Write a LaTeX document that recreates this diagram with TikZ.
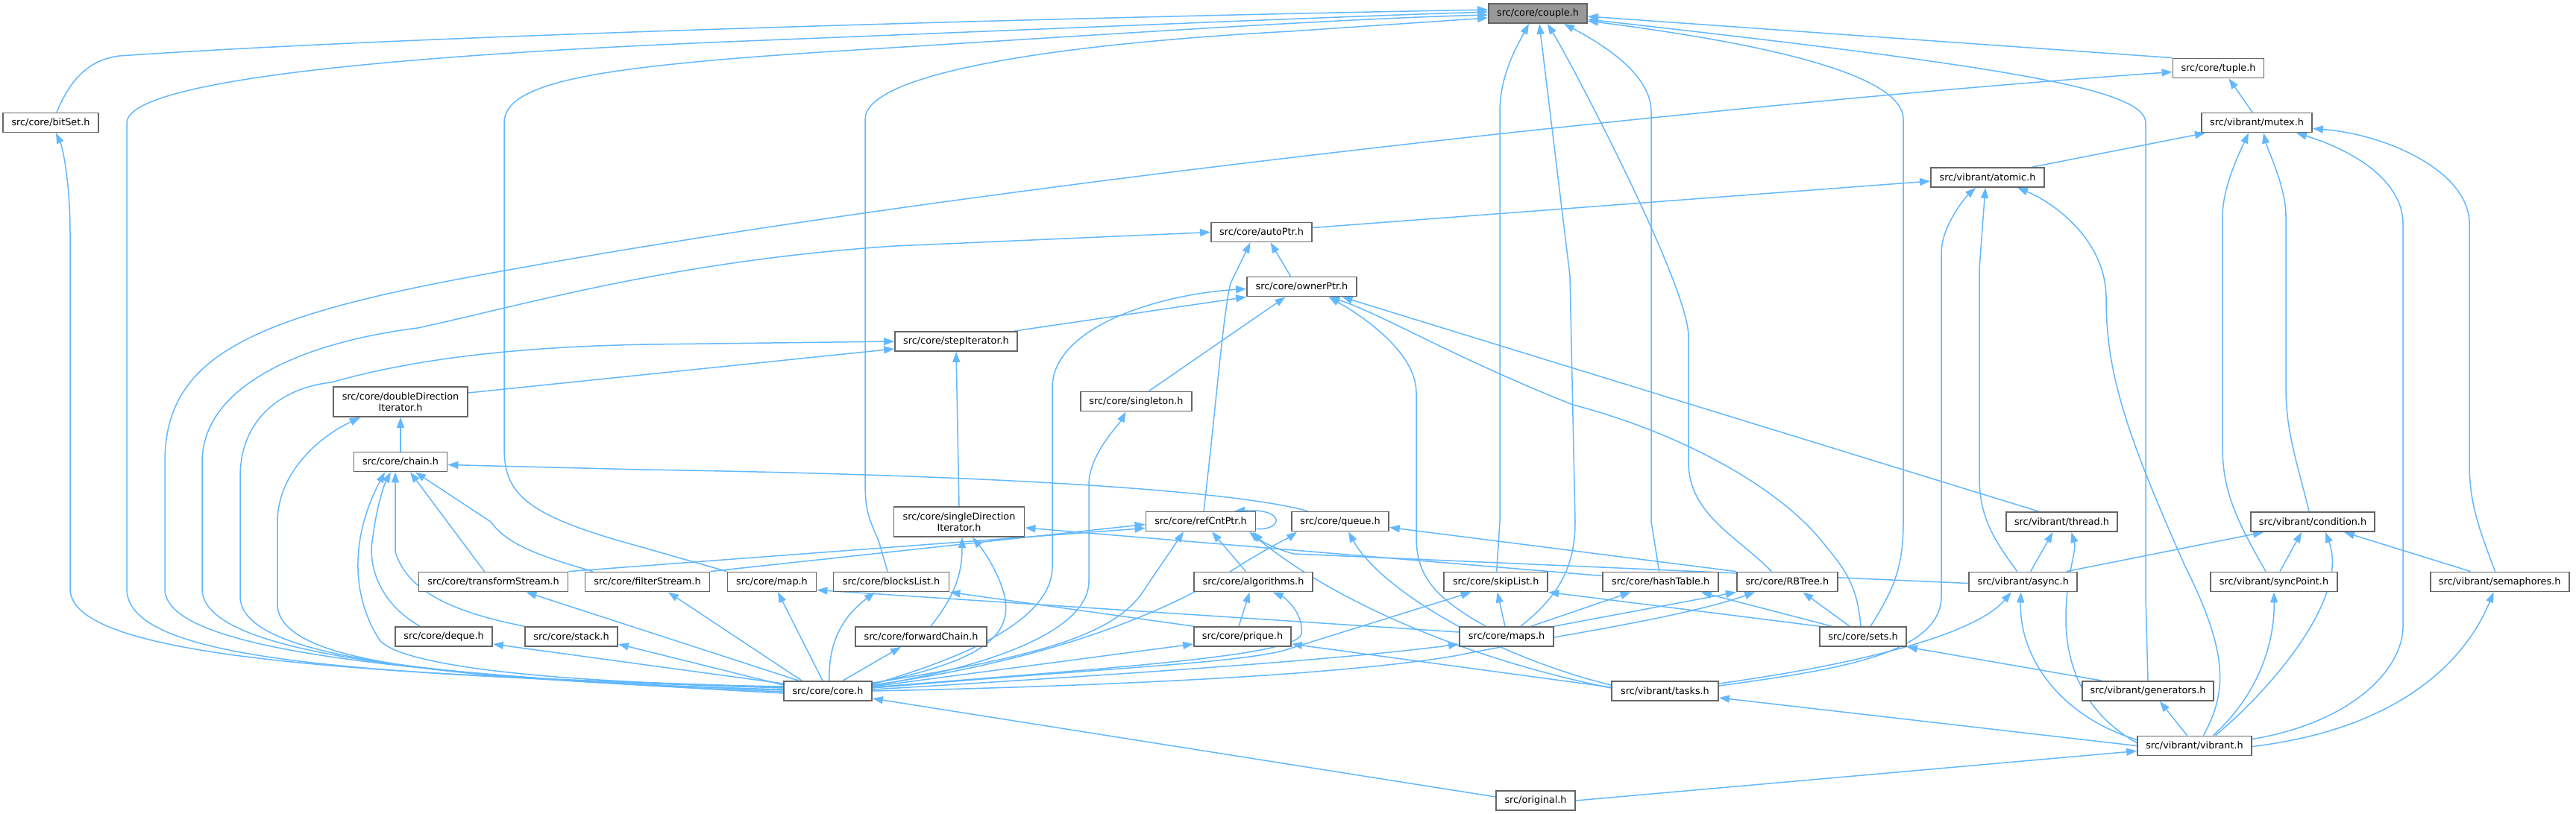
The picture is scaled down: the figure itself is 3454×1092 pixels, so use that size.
\documentclass[tikz,border=0pt]{standalone}
\usepackage{fontspec}
\setmainfont{DejaVu Sans}
\usetikzlibrary{arrows.meta}
\definecolor{eb}{HTML}{63B8FF}
\definecolor{bd}{HTML}{666666}
\definecolor{cf}{HTML}{999999}
\pgfdeclarelayer{bg}
\pgfdeclarelayer{bgw}
\pgfsetlayers{bgw,bg,main}
\begin{document}
\begin{tikzpicture}[x=1pt,y=-1pt,
 nd/.style={draw=bd,line width=1.8pt,fill=white,minimum height=26pt,inner sep=0pt,align=center,font=\fontsize{12.8}{15}\selectfont},
 e/.style={draw=eb,line width=1.5pt,-{Triangle[length=14pt,width=10pt]}}]
\begin{pgfonlayer}{bgw}
\fill[white] (0,0) rectangle (3454,1092);
\end{pgfonlayer}
\useasboundingbox (0,0) rectangle (3454,1092);
\node[nd,fill=cf,minimum width=132pt] (couple) at (2062,18) {src/core/couple.h};
\node[nd,minimum width=128pt] (bitSet) at (68,164.5) {src/core/bitSet.h};
\node[nd,minimum width=122pt] (tuple) at (2974.5,91.5) {src/core/tuple.h};
\node[nd,minimum width=148pt] (mutex) at (3026,164.5) {src/vibrant/mutex.h};
\node[nd,minimum width=152pt] (atomic) at (2665,238) {src/vibrant/atomic.h};
\node[nd,minimum width=135pt] (autoPtr) at (1691.5,311.5) {src/core/autoPtr.h};
\node[nd,minimum width=147pt] (ownerPtr) at (1745.5,384.5) {src/core/ownerPtr.h};
\node[nd,minimum width=164pt] (stepIt) at (1282,458) {src/core/stepIterator.h};
\node[nd,minimum width=180pt,minimum height=40pt] (dd) at (537,539) {src/core/doubleDirection\\Iterator.h};
\node[nd,minimum width=149pt] (singleton) at (1523.5,538.5) {src/core/singleton.h};
\node[nd,minimum width=125pt] (chain) at (537,619.5) {src/core/chain.h};
\node[nd,minimum width=175pt,minimum height=40pt] (sd) at (1286,700) {src/core/singleDirection\\Iterator.h};
\node[nd,minimum width=147pt] (ref) at (1610,699.5) {src/core/refCntPtr.h};
\node[nd,minimum width=130pt] (queue) at (1797,699.5) {src/core/queue.h};
\node[nd,minimum width=149pt] (thread) at (2764.5,700) {src/vibrant/thread.h};
\node[nd,minimum width=166pt] (cond) at (3101,700) {src/vibrant/condition.h};
\node[nd,minimum width=200pt] (tstream) at (661.5,780.5) {src/core/transformStream.h};
\node[nd,minimum width=167pt] (fstream) at (868,780.5) {src/core/filterStream.h};
\node[nd,minimum width=119pt] (map) at (1035,780.5) {src/core/map.h};
\node[nd,minimum width=155pt] (blocks) at (1195,780.5) {src/core/blocksList.h};
\node[nd,minimum width=159pt] (algo) at (1680.5,780.5) {src/core/algorithms.h};
\node[nd,minimum width=139pt] (skip) at (2005.7,780.5) {src/core/skipList.h};
\node[nd,minimum width=155pt] (hash) at (2226.7,780.5) {src/core/hashTable.h};
\node[nd,minimum width=135pt] (rbt) at (2396.3,780.5) {src/core/RBTree.h};
\node[nd,minimum width=145pt] (async) at (2712.7,780.5) {src/vibrant/async.h};
\node[nd,minimum width=170pt] (sync) at (3049,780.5) {src/vibrant/syncPoint.h};
\node[nd,minimum width=186pt] (sem) at (3351.6,780.5) {src/vibrant/semaphores.h};
\node[nd,minimum width=130pt] (deque) at (595,854) {src/core/deque.h};
\node[nd,minimum width=124pt] (stack) at (766,854) {src/core/stack.h};
\node[nd,minimum width=176pt] (fchain) at (1235,854) {src/core/forwardChain.h};
\node[nd,minimum width=130pt] (prique) at (1666,854) {src/core/prique.h};
\node[nd,minimum width=126pt] (maps) at (2020,854) {src/core/maps.h};
\node[nd,minimum width=116pt] (sets) at (2498,854) {src/core/sets.h};
\node[nd,minimum width=118pt] (core) at (1110,927) {src/core/core.h};
\node[nd,minimum width=143pt] (tasks) at (2232.5,927) {src/vibrant/tasks.h};
\node[nd,minimum width=176pt] (gen) at (2880,927) {src/vibrant/generators.h};
\node[nd,minimum width=153pt] (vib) at (2942.5,1000.5) {src/vibrant/vibrant.h};
\node[nd,minimum width=106pt] (orig) at (2059,1074) {src/original.h};
\begin{pgfonlayer}{bg}
% couple
\draw[e] ([xshift=8pt]bitSet.north) .. controls (95,105) and (120,80) .. (160,75) .. controls (600,45) and (1500,22) .. ([yshift=5pt]couple.west);
\draw[e] ([yshift=4pt]core.west) .. controls (500,905) and (170,890) .. (170,790) -- (170,165) .. controls (170,110) and (500,75) .. (1000,55) .. controls (1500,35) and (1800,22) .. ([yshift=2pt]couple.west);
\draw[e] (map.north west) -- (850,731) .. controls (700,690) and (676,660) .. (676,600) -- (676,165) .. controls (676,110) and (800,90) .. (1100,70) .. controls (1500,45) and (1800,25) .. ([yshift=-2pt]couple.west);
\draw[e] ([xshift=-5pt]blocks.north) -- (1178,725) .. controls (1162,690) and (1160,680) .. (1160,640) -- (1160,160) .. controls (1160,100) and (1400,60) .. (1730,42) -- ([yshift=-6pt]couple.west);
\draw[e] ([xshift=1pt]skip.north) -- (2011,700) -- (2011,150) .. controls (2011,100) and (2035,60) .. ([xshift=-12pt]couple.south);
\draw[e] ([xshift=19pt]maps.north) .. controls (2090,800) and (2112,760) .. (2112,700) -- (2105,370) -- ([xshift=2pt]couple.south);
\draw[e] ([xshift=-21pt]rbt.north) .. controls (2330,720) and (2264,690) .. (2264,620) -- (2264,450) .. controls (2262,380) and (2110,90) .. ([xshift=13pt]couple.south);
\draw[e] ([xshift=-2pt]hash.north) -- (2214,700) -- (2214,150) .. controls (2214,100) and (2150,60) .. ([xshift=35pt]couple.south);
\draw[e] ([xshift=10pt]sets.north) .. controls (2540,790) and (2552,760) .. (2552,700) -- (2552,160) .. controls (2552,90) and (2300,50) .. ([yshift=-10pt]couple.east);
\draw[e] (tuple.north west) -- ([yshift=-4pt]couple.east);
\draw[e] (gen.north) -- (2877,800) -- (2877,165) .. controls (2877,120) and (2700,90) .. ([yshift=-8pt]couple.east);
% tuple, mutex
\draw[e] ([yshift=-3pt]core.west) .. controls (600,905) and (221,880) .. (221,790) -- (221,620) .. controls (221,470) and (350,420) .. (694,360) .. controls (1300,250) and (2300,140) .. ([yshift=-5pt]tuple.west);
\draw[e] ([xshift=-6pt]mutex.north) -- ([xshift=14pt]tuple.south);
\draw[e] ([xshift=60pt]atomic.north) -- ([xshift=-69pt]mutex.south);
\draw[e] ([xshift=-11pt]sync.north) .. controls (3000,700) and (2980,660) .. (2980,600) -- (2980,290) .. controls (2980,250) and (3005,200) .. ([xshift=-11pt]mutex.south);
\draw[e] ([xshift=-5pt]cond.north) .. controls (3080,620) and (3065,580) .. (3065,520) -- (3065,290) .. controls (3065,250) and (3040,200) .. ([xshift=9pt]mutex.south);
\draw[e] ([yshift=9pt]vib.east) .. controls (3150,970) and (3222,900) .. (3222,840) -- (3222,300) .. controls (3222,240) and (3150,200) .. ([xshift=53pt]mutex.south);
\draw[e] ([xshift=-6pt]sem.north) .. controls (3320,700) and (3311,670) .. (3311,620) -- (3311,300) .. controls (3311,230) and (3200,180) .. ([yshift=-8pt]mutex.east);
% atomic
\draw[e] ([xshift=-8pt]async.north) .. controls (2670,720) and (2654,690) .. (2654,640) -- (2654,360) -- ([xshift=-3pt]atomic.south);
\draw[e] ([yshift=7pt]tasks.east) .. controls (2450,900) and (2603,880) .. (2603,800) -- (2603,340) .. controls (2603,300) and (2640,260) .. ([xshift=-16pt]atomic.south);
\draw[e] ([xshift=12pt]vib.north) .. controls (2985,930) and (2990,880) .. (2930,760) .. controls (2850,580) and (2824,500) .. (2824,400) .. controls (2824,320) and (2750,270) .. ([xshift=40pt]atomic.south);
\draw[e] ([yshift=6pt]autoPtr.east) -- ([yshift=-5pt]atomic.west);
% autoPtr
\draw[e] ([yshift=-1pt]core.west) .. controls (600,910) and (271,880) .. (271,790) -- (271,620) .. controls (271,520) and (400,460) .. (560,440) .. controls (700,410) and (900,350) .. (1200,330) -- (autoPtr.west);
\draw[e] ([xshift=4pt]ref.north) .. controls (1630,550) and (1640,420) .. (1650,380) -- ([xshift=-15pt]autoPtr.south);
\draw[e] ([xshift=-15pt]ownerPtr.north) -- ([xshift=12pt]autoPtr.south);
% ownerPtr
\draw[e] ([yshift=9pt]core.east) .. controls (1300,880) and (1411,830) .. (1411,760) -- (1411,520) .. controls (1411,440) and (1550,395) .. ([yshift=-3pt]ownerPtr.west);
\draw[e] ([xshift=78pt]stepIt.north) -- (ownerPtr.south west);
\draw[e] ([xshift=17pt]singleton.north) -- ([xshift=-22pt]ownerPtr.south);
\draw[e] ([xshift=-28pt]maps.north) .. controls (1920,800) and (1899,770) .. (1899,720) -- (1899,527) .. controls (1899,470) and (1820,420) .. ([xshift=36pt]ownerPtr.south);
\draw[e] ([xshift=-3pt]sets.north) .. controls (2490,780) and (2470,760) .. (2442,725) .. controls (2380,650) and (2250,580) .. (2109,543) .. controls (1950,480) and (1850,420) .. ([xshift=37pt]ownerPtr.south);
\draw[e] ([xshift=-31pt]thread.north) -- ([xshift=54pt]ownerPtr.south);
% stepIterator
\draw[e] ([yshift=1pt]core.west) .. controls (600,910) and (322,885) .. (322,800) -- (322,640) .. controls (322,560) and (380,520) .. (444,513) .. controls (560,480) and (700,465) .. (870,462) -- (stepIt.west);
\draw[e] ([yshift=12pt]dd.east) -- ([yshift=-10pt]stepIt.west);
\draw[e] (sd.north) -- (stepIt.south);
% doubleDirection
\draw[e] ([yshift=2pt]core.west) .. controls (600,912) and (372,890) .. (372,810) -- (372,700) .. controls (372,640) and (420,590) .. ([xshift=-54pt]dd.south);
\draw[e] (chain.north) -- (dd.south);
% chain
\draw[e] ([yshift=6pt]core.west) .. controls (700,915) and (540,890) .. (510,860) .. controls (470,800) and (470,720) .. ([xshift=-21pt]chain.south);
\draw[e] ([xshift=-32pt]deque.north) .. controls (510,810) and (492,760) .. (500,720) .. controls (505,680) and (515,650) .. ([xshift=-13pt]chain.south);
\draw[e] ([xshift=-63pt]stack.north) .. controls (600,820) and (545,790) .. (530,740) -- ([xshift=-7pt]chain.south);
\draw[e] ([xshift=-12pt]tstream.north) -- ([xshift=13pt]chain.south);
\draw[e] ([xshift=-73pt]fstream.north) .. controls (720,745) and (680,730) .. (658,700) -- ([xshift=20pt]chain.south);
\draw[e] ([xshift=-44pt]queue.north) .. controls (1700,670) and (1500,640) .. (860,630) -- ([yshift=-4pt]chain.east);
% singleDirection
\draw[e] ([xshift=13pt]fchain.north) .. controls (1280,800) and (1290,770) .. ([xshift=4pt]sd.south);
\draw[e] ([yshift=10pt]core.east) .. controls (1300,890) and (1360,860) .. (1347,800) .. controls (1340,770) and (1320,740) .. ([xshift=18pt]sd.south);
\draw[e] ([yshift=8pt]hash.west) -- ([yshift=-8pt]sd.east);
% singleton
\draw[e] ([yshift=7pt]core.east) .. controls (1350,890) and (1460,840) .. (1460,780) -- (1460,650) .. controls (1460,610) and (1500,570) .. ([xshift=-14pt]singleton.south);
% refCntPtr
\draw[e] (tstream.north east) -- ([yshift=-9pt]ref.west);
\draw[e] (fstream.north east) -- ([yshift=-4pt]ref.west);
\draw[e] ([yshift=11pt]core.east) .. controls (1400,880) and (1500,850) .. (1537,787) -- ([xshift=-23pt]ref.south);
\draw[e] ([xshift=-10pt]algo.north) -- ([xshift=15pt]ref.south);
\draw[e] ([yshift=-10pt]ref.east) .. controls (1720,712) and (1725,682) .. ([xshift=45pt]ref.north);
\draw[e] ([yshift=4pt]tasks.west) .. controls (1950,880) and (1780,800) .. ([xshift=65pt]ref.south);
\draw[e] ([yshift=-2pt]async.west) -- (1735,743) .. controls (1712,737) and (1692,727) .. ([xshift=70pt]ref.south);
% core to lower nodes
\draw[e] ([xshift=-39pt]core.north) -- ([xshift=44pt]tstream.south);
\draw[e] ([xshift=-35pt]core.north) -- ([xshift=28pt]fstream.south);
\draw[e] ([xshift=-7pt]core.north) -- ([xshift=8pt]map.south);
\draw[e] ([xshift=2pt]core.north) .. controls (1110,850) and (1140,820) .. ([xshift=-22pt]blocks.south);
\draw[e] ([xshift=20pt]core.north) -- ([xshift=-27pt]fchain.south);
\draw[e] ([yshift=10pt]core.west) -- ([yshift=-10pt]deque.east);
\draw[e] ([yshift=8pt]core.west) -- ([yshift=-10pt]stack.east);
\draw[e] ([yshift=5pt]core.west) .. controls (500,905) and (94,885) .. (94,790) -- (94,310) .. controls (94,250) and (85,200) .. ([xshift=7pt]bitSet.south);
\draw[e] ([yshift=6pt]core.east) -- ([yshift=-10pt]prique.west);
\draw[e] ([yshift=2pt]core.east) .. controls (1500,905) and (1800,885) .. ([yshift=-10pt]maps.west);
\draw[e] ([yshift=4pt]core.east) .. controls (1500,895) and (1650,890) .. (1720,873) -- ([xshift=-33pt]skip.south);
\draw[e] (core.east) .. controls (1500,920) and (1800,905) .. (1950,880) .. controls (2100,850) and (2250,830) .. ([xshift=-43pt]rbt.south);
\draw[e] ([yshift=5pt]core.east) .. controls (1500,895) and (1740,880) .. (1745,850) .. controls (1748,820) and (1720,800) .. ([xshift=26pt]algo.south);
\draw[e] ([yshift=8pt]core.east) .. controls (1450,880) and (1600,800) .. (1660,760) .. controls (1700,735) and (1730,720) .. ([xshift=-58pt]queue.south);
% misc
\draw[e] ([xshift=-5pt]prique.north) -- ([xshift=-5pt]algo.south);
\draw[e] (prique.north west) -- (blocks.south east);
\draw[e] ([yshift=6pt]maps.west) -- ([yshift=-11pt]map.east);
\draw[e] ([yshift=8pt]tasks.west) .. controls (2000,880) and (1850,790) .. ([xshift=11pt]queue.south);
\draw[e] ([yshift=5pt]tasks.west) -- ([yshift=-10pt]prique.east);
\draw[e] (rbt.north west) -- ([yshift=-8pt]queue.east);
\draw[e] ([xshift=-2pt]maps.north) -- ([xshift=2pt]skip.south);
\draw[e] ([xshift=33pt]maps.north) -- ([xshift=-40pt]hash.south);
\draw[e] (maps.north east) -- (rbt.south west);
\draw[e] (sets.north west) -- (skip.south east);
\draw[e] ([xshift=-42pt]sets.north) -- ([xshift=54pt]hash.south);
\draw[e] ([xshift=-18pt]sets.north) -- ([xshift=21pt]rbt.south);
\draw[e] ([yshift=10pt]tasks.east) .. controls (2500,890) and (2650,850) .. ([xshift=-16pt]async.south);
\draw[e] (vib.west) -- ([yshift=-9pt]tasks.east);
\draw[e] ([xshift=-62pt]gen.north) -- (sets.south east);
\draw[e] ([xshift=58pt]async.north) -- ([xshift=-66pt]cond.south);
\draw[e] ([xshift=10pt]async.north) -- ([xshift=-12pt]thread.south);
\draw[e] ([yshift=4pt]vib.west) .. controls (2800,960) and (2770,900) .. (2770,830) .. controls (2770,770) and (2785,740) .. ([xshift=13pt]thread.south);
\draw[e] ([yshift=8pt]vib.west) .. controls (2760,960) and (2707,880) .. ([xshift=-3pt]async.south);
\draw[e] ([xshift=8pt]sync.north) -- ([xshift=-15pt]cond.south);
\draw[e] ([xshift=28pt]vib.north) .. controls (3050,920) and (3150,800) .. ([xshift=17pt]cond.south);
\draw[e] ([xshift=-39pt]sem.north) -- ([xshift=42pt]cond.south);
\draw[e] ([xshift=25pt]vib.north) .. controls (3030,930) and (3050,860) .. (sync.south);
\draw[e] ([yshift=-1pt]vib.east) .. controls (3200,980) and (3300,900) .. ([xshift=-8pt]sem.south);
\draw[e] ([xshift=-10pt]vib.north) -- ([xshift=16pt]gen.south);
\draw[e] ([yshift=5pt]orig.west) -- ([yshift=-10pt]core.east);
\draw[e] (orig.east) -- ([yshift=-7pt]vib.west);
\end{pgfonlayer}
\end{tikzpicture}
\end{document}
